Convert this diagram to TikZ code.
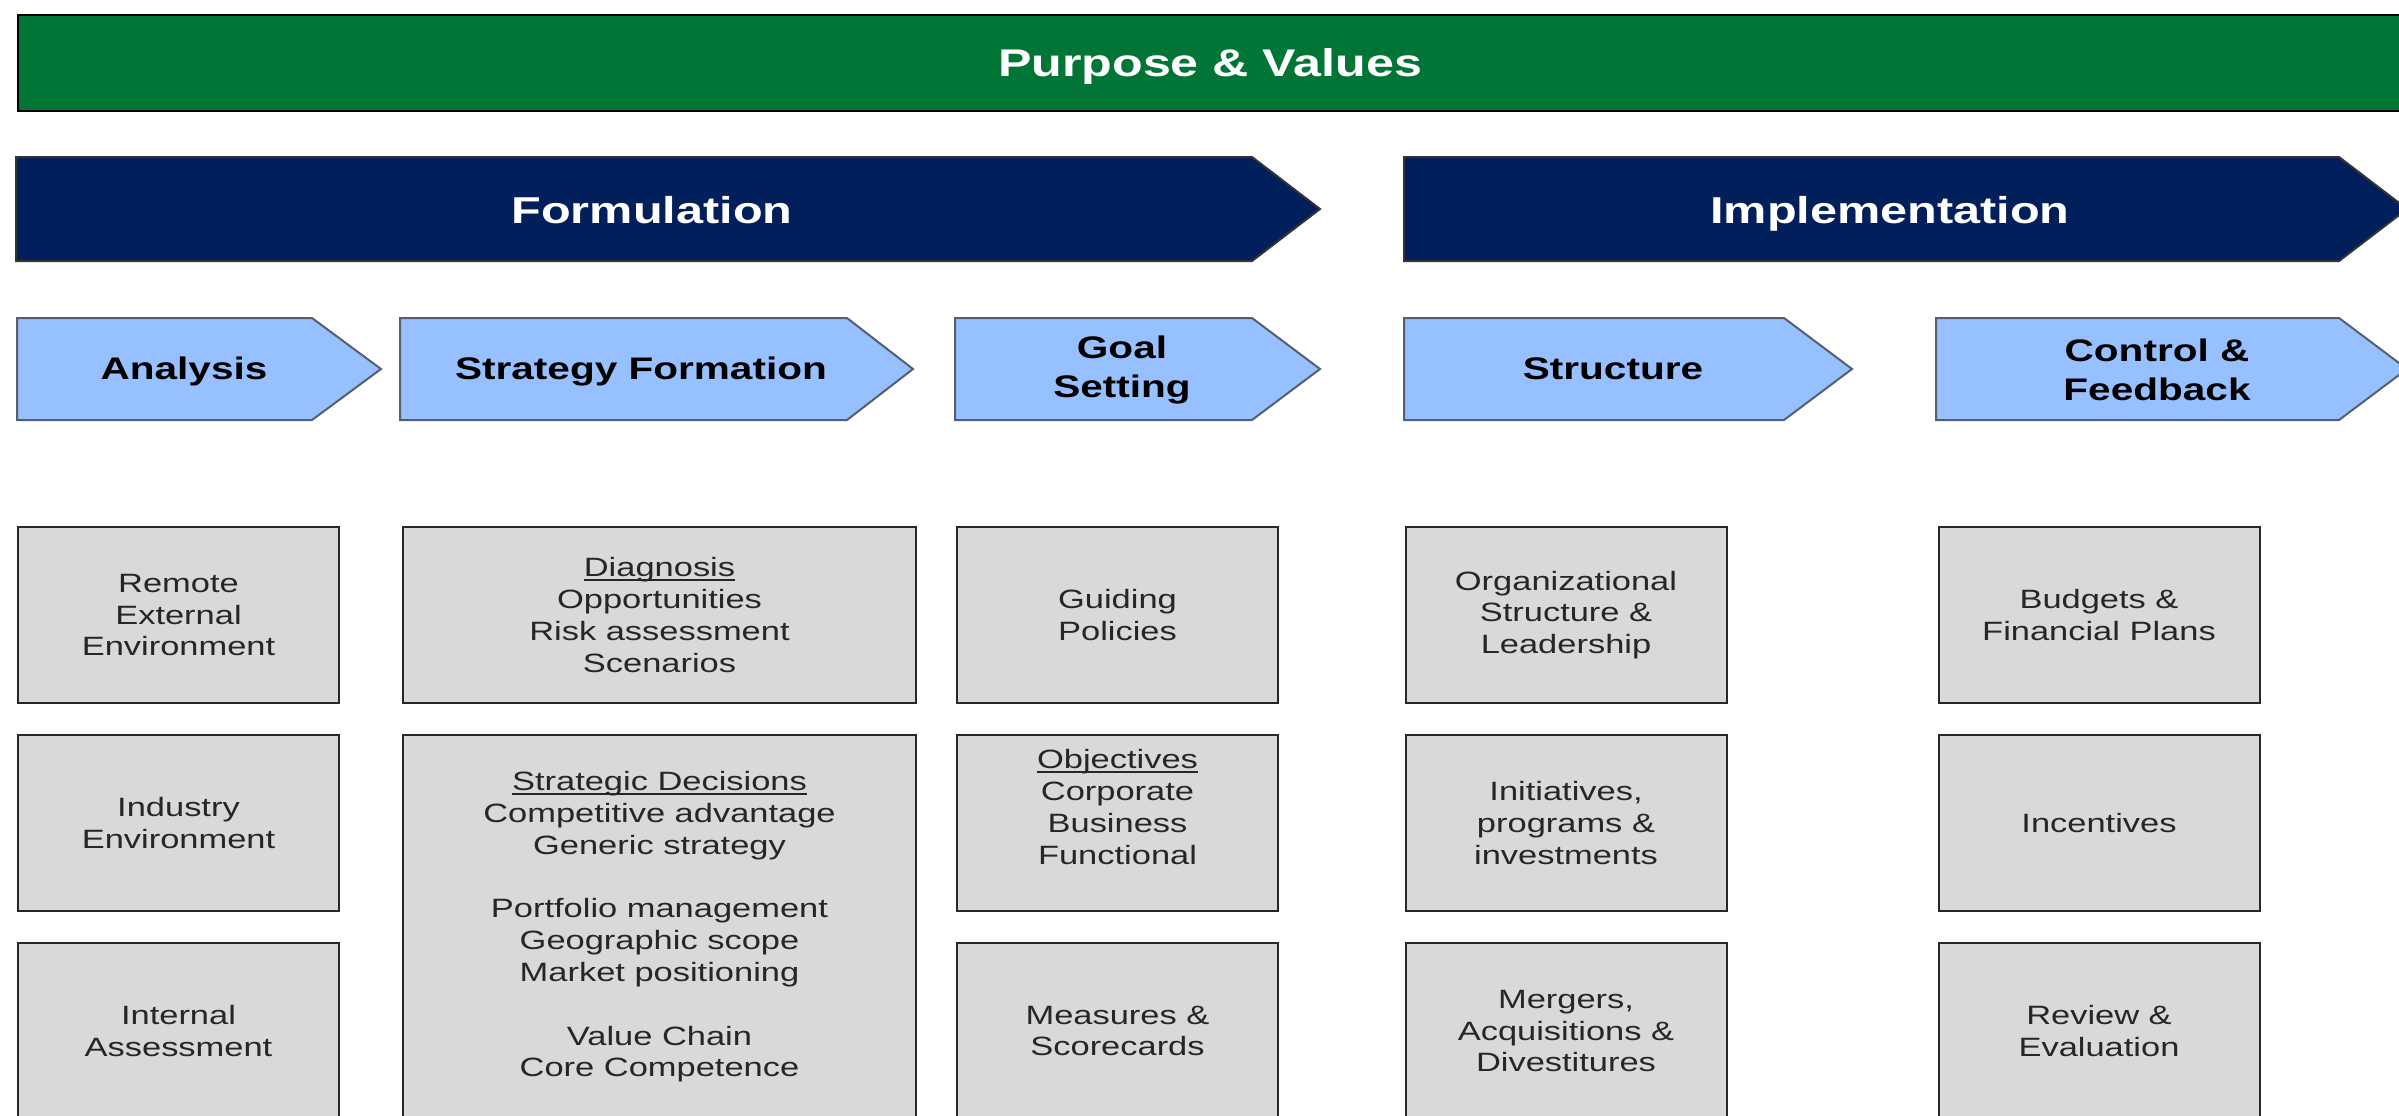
\documentclass[tikz,border=0pt]{standalone}
\usepackage{fontspec}
\setmainfont{Liberation Sans}[FakeStretch=1.3]
\definecolor{pvgreen}{RGB}{0,117,54}
\definecolor{navyblue}{RGB}{0,31,91}
\definecolor{chevfill}{RGB}{150,192,255}
\definecolor{chevline}{RGB}{85,95,110}
\definecolor{boxgray}{RGB}{217,217,217}
\definecolor{boxline}{RGB}{40,40,40}
\newcommand\myul[1]{\setbox0\hbox{#1}\rlap{\rule[-2pt]{\wd0}{0.7pt}}\box0}
\begin{document}
\begin{tikzpicture}[x=0.5pt,y=-0.5pt,
  greenbar/.style={fill=pvgreen,draw=black,line width=1pt},
  banner/.style={fill=navyblue,draw=black!80,line width=1pt},
  chevron/.style={fill=chevfill,draw=chevline,line width=1pt},
  bannertext/.style={text=white,font=\fontsize{18.7}{22}\selectfont\bfseries,inner sep=0pt,anchor=base},
  chevtext/.style={text=black,font=\fontsize{15.6}{19.5}\selectfont\bfseries,align=center,inner sep=0pt},
  celltext/.style={text=black!85,font=\fontsize{13.25}{15.9}\selectfont,align=center,inner sep=0pt},
  cell/.style={celltext,draw=boxline,fill=boxgray,line width=1pt,minimum width=160.5pt,minimum height=88pt}]
\useasboundingbox (0,0) rectangle (2399,1115);
\clip (0,0) rectangle (2399,1115);
% Purpose & Values
\path[greenbar] (18,15) rectangle (2402,111);
\node[bannertext,font=\fontsize{19.3}{22}\selectfont\bfseries] (purpose) at (1210,76) {Purpose \& Values};
% Banners
\path[banner] (16,157) -- (1252,157) -- (1320,209) -- (1252,261) -- (16,261) -- cycle;
\node[bannertext] (formulation) at (652,223) {Formulation};
\path[banner] (1404,157) -- (2339,157) -- (2407,209) -- (2339,261) -- (1404,261) -- cycle;
\node[bannertext] (implementation) at (1890,223) {Implementation};
% Chevrons
\path[chevron] (17,318) -- (312,318) -- (381,369) -- (312,420) -- (17,420) -- cycle;
\node[chevtext,anchor=base] (analysis) at (184,379) {Analysis};
\path[chevron] (400,318) -- (847,318) -- (913,369) -- (847,420) -- (400,420) -- cycle;
\node[chevtext,anchor=base] (stratform) at (641,379) {Strategy Formation};
\path[chevron] (955,318) -- (1252,318) -- (1320,369) -- (1252,420) -- (955,420) -- cycle;
\node[chevtext] (goal) at (1122,370) {Goal\\Setting};
\path[chevron] (1404,318) -- (1784,318) -- (1852,369) -- (1784,420) -- (1404,420) -- cycle;
\node[chevtext,anchor=base] (structure) at (1613,379) {Structure};
\path[chevron] (1936,318) -- (2339,318) -- (2407,369) -- (2339,420) -- (1936,420) -- cycle;
\node[chevtext] (control) at (2157,370) {Control \&\\Feedback};
% Analysis column
\node[cell] (remote) at (178.5,615) {Remote\\External\\Environment};
\node[cell] (industry) at (178.5,823) {Industry\\Environment};
\node[cell] (internal) at (178.5,1031) {Internal\\Assessment};
% Strategy column
\node[cell,minimum width=256.5pt] (diag) at (659.5,615) {\myul{Diagnosis}\\Opportunities\\Risk assessment\\Scenarios};
\node[cell,minimum width=256.5pt,minimum height=192pt] (strat) at (659.5,927) {\myul{Strategic Decisions}\\Competitive advantage\\Generic strategy\\[15.9pt]Portfolio management\\Geographic scope\\Market positioning\\[15.9pt]Value Chain\\Core Competence};
% Goal column
\node[cell] (guiding) at (1117.5,615) {Guiding\\Policies};
\node[cell] (objbox) at (1117.5,823) {};
\node[celltext] (objectives) at (1117.5,807) {\myul{Objectives}\\Corporate\\Business\\Functional};
\node[cell] (measures) at (1117.5,1031) {Measures \&\\Scorecards};
% Structure column
\node[cell] (org) at (1566,615) {Organizational\\Structure \&\\Leadership};
\node[cell] (init) at (1566,823) {Initiatives,\\programs \&\\investments};
\node[cell] (mergers) at (1566,1031) {Mergers,\\Acquisitions \&\\Divestitures};
% Control column
\node[cell] (budgets) at (2099,615) {Budgets \&\\Financial Plans};
\node[cell] (incentives) at (2099,823) {Incentives};
\node[cell] (review) at (2099,1031) {Review \&\\Evaluation};
\end{tikzpicture}
\end{document}
